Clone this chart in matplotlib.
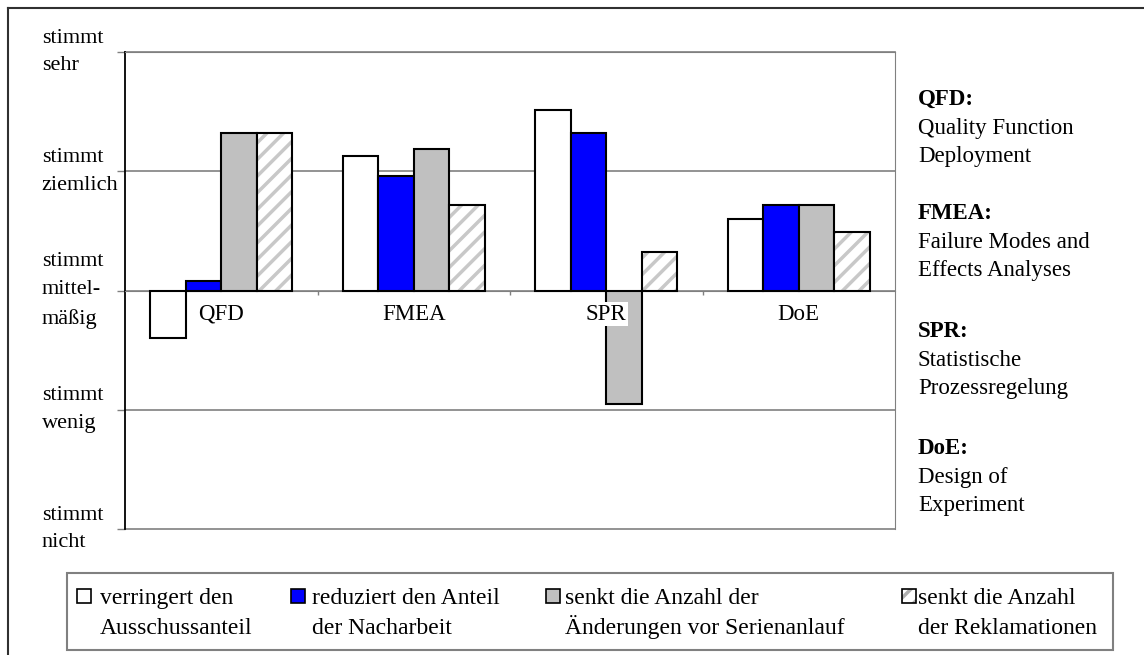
import numpy as np
import matplotlib.pyplot as plt
from matplotlib.patches import Rectangle
from matplotlib.lines import Line2D

plt.rcParams['font.family'] = ['Liberation Serif', 'DejaVu Serif']
plt.rcParams['font.size'] = 16.5
plt.rcParams['hatch.linewidth'] = 2.5

categories = ['QFD', 'FMEA', 'SPR', 'DoE']
series_labels = ['verringert den\nAusschussanteil',
                 'reduziert den Anteil\nder Nacharbeit',
                 'senkt die Anzahl der\nÄnderungen vor Serienanlauf',
                 'senkt die Anzahl\nder Reklamationen']
# 0 = stimmt mittelmäßig, +2 = stimmt sehr, -2 = stimmt nicht
ausschuss = [-0.40, 1.13, 1.51, 0.60]
nacharbeit = [0.08, 0.96, 1.32, 0.72]
aenderungen = [1.32, 1.19, -0.95, 0.72]
reklamationen = [1.32, 0.72, 0.32, 0.49]

ytick_vals = [-2, -1, 0, 1, 2]
ytick_labels = ['stimmt\nnicht', 'stimmt\nwenig', 'stimmt\nmittel-\nmäßig',
                'stimmt\nziemlich', 'stimmt\nsehr']

abbrev = [('QFD:', 'Quality Function', 'Deployment'),
          ('FMEA:', 'Failure Modes and', 'Effects Analyses'),
          ('SPR:', 'Statistische', 'Prozessregelung'),
          ('DoE:', 'Design of', 'Experiment')]

W, H = 1144, 655
fig = plt.figure(figsize=(W / 100, H / 100), dpi=100)

def fx(px):
    return px / W

def fy(py):
    return 1 - py / H

ax = fig.add_axes([fx(125), fy(529), fx(895) - fx(125), fy(52) - fy(529)])

x = np.arange(len(categories))
bw = 0.1844
series = [ausschuss, nacharbeit, aenderungen, reklamationen]
fills = ['white', '#0000ff', '#c0c0c0', 'white']
for i, (vals, fc) in enumerate(zip(series, fills)):
    xs = x + (i - 1.5) * bw
    if i == 3:
        ax.bar(xs, vals, bw, color='white', edgecolor='#c8c8c8', hatch='//',
               linewidth=0, zorder=3)
        ax.bar(xs, vals, bw, fill=False, edgecolor='black', linewidth=1.5, zorder=4)
    else:
        ax.bar(xs, vals, bw, color=fc, edgecolor='black', linewidth=1.5, zorder=3)

for xi, name in zip(x, categories):
    ax.text(xi, -0.2, name, ha='center', va='center', zorder=5,
            bbox=dict(fc='white', ec='none', pad=1))

ax.set_xlim(-0.5, len(categories) - 0.5)
ax.set_ylim(-2, 2)

for yv in ytick_vals:
    ax.axhline(yv, color='#808080', linewidth=1.2, zorder=1, clip_on=False)

ax.set_yticks(ytick_vals)
ax.set_yticklabels(ytick_labels, ha='left', va='center', linespacing=1.63,
                   fontsize=16)
ax.tick_params(axis='y', direction='out', length=6, width=1, color='#808080', pad=54)

ax.spines['bottom'].set_position(('data', 0))
ax.spines['bottom'].set_color('#808080')
ax.set_xticks(x[:-1] + 0.5)
ax.set_xticklabels([])
ax.tick_params(axis='x', direction='out', length=3, width=1, color='#808080')
ax.spines['right'].set_color('#808080')
ax.spines['top'].set_color('#808080')
ax.spines['left'].set_color('black')
ax.spines['left'].set_linewidth(1.3)

# abbreviations on the right
base_y = [105, 219, 337, 454]
for lines, b in zip(abbrev, base_y):
    for k, line in enumerate(lines):
        fig.text(fx(918), fy(b + 28.7 * k), line, va='baseline', ha='left',
                 fontweight='bold' if k == 0 else 'normal')

# legend box
fig.add_artist(Rectangle((fx(67), fy(650)), fx(1113) - fx(67), fy(573) - fy(650),
                         transform=fig.transFigure, fill=False,
                         edgecolor='#808080', linewidth=1.5))
sq_x = [77, 291, 546, 902]
txt_x = [100, 312, 565, 918]
for i, (lab, fc) in enumerate(zip(series_labels, fills)):
    box = (fx(sq_x[i]), fy(603))
    bwf, bhf = fx(14), fy(589) - fy(603)
    if i == 3:
        fig.add_artist(Rectangle(box, bwf, bhf, transform=fig.transFigure,
                                 facecolor='white', edgecolor='#b0b0b0',
                                 linewidth=0, hatch='//'))
        fig.add_artist(Rectangle(box, bwf, bhf, transform=fig.transFigure,
                                 fill=False, edgecolor='black', linewidth=1.2))
    else:
        fig.add_artist(Rectangle(box, bwf, bhf, transform=fig.transFigure,
                                 facecolor=fc, edgecolor='black', linewidth=1.2))
    for k, line in enumerate(lab.split('\n')):
        fig.text(fx(txt_x[i]), fy(604 + 30 * k), line, va='baseline', ha='left',
                 fontsize=17)

# outer frame
fig.add_artist(Line2D([fx(8), fx(8)], [0, fy(8)], color='#303030', linewidth=1.5))
fig.add_artist(Line2D([fx(8), 1], [fy(8), fy(8)], color='#303030', linewidth=1.5))

fig.savefig('out.png', dpi=100)
